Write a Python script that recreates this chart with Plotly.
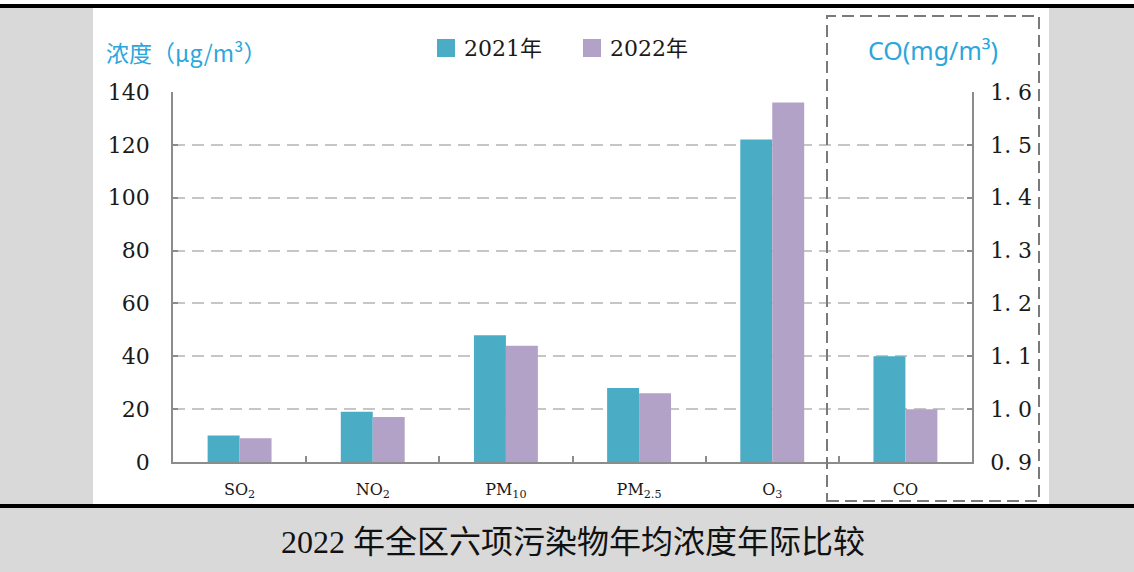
import plotly.graph_objects as go

# ---- data ----
categories = ["SO2", "NO2", "PM10", "PM2.5", "O3", "CO"]
category_labels = ["SO<sub>2</sub>", "NO<sub>2</sub>", "PM<sub>10</sub>", "PM<sub>2.5</sub>", "O<sub>3</sub>", "CO"]
series_names = ["2021年", "2022年"]
values_2021 = [10, 19, 48, 28, 122]
values_2022 = [9, 17, 44, 26, 136]
co_2021 = [1.1]
co_2022 = [1.0]
left_ticks = [0, 20, 40, 60, 80, 100, 120, 140]
right_ticks = [0.9, 1.0, 1.1, 1.2, 1.3, 1.4, 1.5, 1.6]
right_tick_labels = ["0. 9", "1. 0", "1. 1", "1. 2", "1. 3", "1. 4", "1. 5", "1. 6"]
colors = ["#4bacc6", "#b3a2c7"]
title_text = "2022 年全区六项污染物年均浓度年际比较"

W, H = 1134, 572
L, R, T, B = 173, 972, 92, 462


def px(x):
    return (x - L) / (R - L)


def py(y):
    return (B - y) / (B - T)


fig = go.Figure()
bw = 0.24
offs = [-bw, 0]
for name, vals, covals, col, off in zip(series_names, [values_2021, values_2022], [co_2021, co_2022], colors, offs):
    fig.add_trace(go.Bar(x=categories[:5], y=vals, name=name, marker=dict(color=col, line=dict(width=0)),
                         width=bw, offset=off, yaxis="y", showlegend=False))
    fig.add_trace(go.Bar(x=categories[5:], y=[v - 0.9 for v in covals], base=0.9, name=name,
                         marker=dict(color=col, line=dict(width=0)),
                         width=bw, offset=off, yaxis="y2", showlegend=False))

axis_gray = "#8c8c8c"
tickfont = dict(family="DejaVu Serif, Noto Sans CJK SC", size=22, color="#1a1a1a")

fig.update_layout(
    width=W, height=H,
    margin=dict(l=L, r=W - R, t=T, b=H - B, pad=0),
    paper_bgcolor="white", plot_bgcolor="white",
    barmode="overlay",
    xaxis=dict(type="category", categoryorder="array", categoryarray=categories,
               tickvals=categories, ticktext=category_labels, range=[-0.5, 5.5],
               showline=True, linecolor=axis_gray, linewidth=1.5,
               ticks="inside", tickson="boundaries", ticklen=6, tickcolor=axis_gray, tickwidth=1.5,
               tickfont=dict(family="DejaVu Serif", size=16, color="#1a1a1a"),
               ticklabelstandoff=12, showgrid=False, zeroline=False, fixedrange=True),
    yaxis=dict(range=[0, 140], tickvals=left_ticks, showline=True, linecolor=axis_gray, linewidth=1.5,
               ticks="inside", ticklen=5, tickcolor=axis_gray, tickwidth=1.5,
               tickfont=tickfont, ticklabelstandoff=17,
               showgrid=True, gridcolor="#c6c6c6", gridwidth=1.5, griddash="12px,7px",
               zeroline=False, fixedrange=True),
    yaxis2=dict(range=[0.9, 1.6], overlaying="y", side="right", tickvals=right_ticks,
                ticktext=right_tick_labels, showline=True, linecolor=axis_gray, linewidth=1.5,
                ticks="inside", ticklen=5, tickcolor=axis_gray, tickwidth=1.5,
                tickfont=tickfont, ticklabelstandoff=12, showgrid=False, zeroline=False, fixedrange=True),
)

shapes = []
gray_bg = "#d9d9d9"
# side gray panels and bottom band
shapes.append(dict(type="rect", xref="paper", yref="paper", x0=px(0), x1=px(93), y0=py(504), y1=py(8),
                   fillcolor=gray_bg, line=dict(width=0), layer="below"))
shapes.append(dict(type="rect", xref="paper", yref="paper", x0=px(1049), x1=px(W), y0=py(504), y1=py(8),
                   fillcolor=gray_bg, line=dict(width=0), layer="below"))
shapes.append(dict(type="rect", xref="paper", yref="paper", x0=px(0), x1=px(W), y0=py(H), y1=py(508),
                   fillcolor=gray_bg, line=dict(width=0), layer="below"))
# black rules
shapes.append(dict(type="rect", xref="paper", yref="paper", x0=px(0), x1=px(W), y0=py(8), y1=py(4),
                   fillcolor="black", line=dict(width=0)))
shapes.append(dict(type="rect", xref="paper", yref="paper", x0=px(0), x1=px(W), y0=py(508), y1=py(504),
                   fillcolor="black", line=dict(width=0)))
# dashed CO box
shapes.append(dict(type="rect", xref="paper", yref="paper", x0=px(827), x1=px(1039), y0=py(501), y1=py(16),
                   fillcolor="rgba(0,0,0,0)", line=dict(color="#7a7a7a", width=2, dash="12px,6px")))

annotations = []
# legend
leg_x = [437, 583]
for name, col, lx in zip(series_names, colors, leg_x):
    shapes.append(dict(type="rect", xref="paper", yref="paper", x0=px(lx), x1=px(lx + 18), y0=py(57), y1=py(39),
                       fillcolor=col, line=dict(width=0)))
    annotations.append(dict(text=name, xref="paper", yref="paper", x=px(lx + 25), y=py(48),
                            xanchor="left", yanchor="middle", showarrow=False,
                            font=dict(family="DejaVu Serif, Noto Sans CJK SC", size=22, color="#1a1a1a")))
# axis titles
annotations.append(dict(text="浓度（μg/m³）", xref="paper", yref="paper", x=px(104), y=py(52),
                        xanchor="left", yanchor="middle", showarrow=False,
                        font=dict(family="Noto Sans CJK SC", size=23, color="#2aa7dc")))
annotations.append(dict(text="CO(mg/m³)", xref="paper", yref="paper", x=px(933), y=py(50),
                        xanchor="center", yanchor="middle", showarrow=False,
                        font=dict(family="Noto Sans, Noto Sans CJK SC", size=25, color="#2aa7dc")))
# bottom title
annotations.append(dict(text=title_text, xref="paper", yref="paper", x=px(573), y=py(542),
                        xanchor="center", yanchor="middle", showarrow=False,
                        font=dict(family="Liberation Serif, Noto Sans CJK SC", size=32, color="#111111")))

fig.update_layout(shapes=shapes, annotations=annotations)
fig.write_html("out.html", config={"displayModeBar": False},
               post_script="document.body.style.margin='0';document.body.style.padding='0';")
